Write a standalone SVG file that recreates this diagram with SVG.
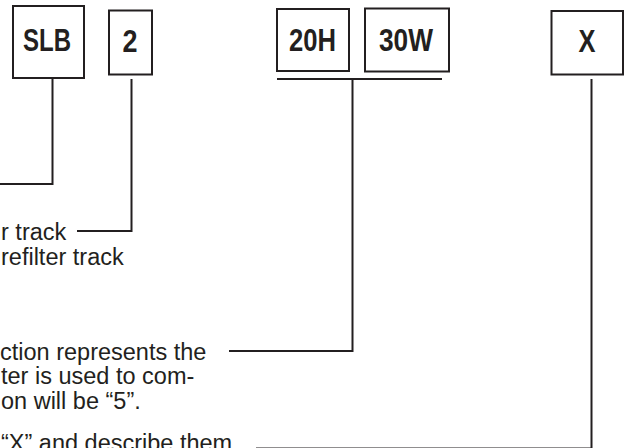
<svg xmlns="http://www.w3.org/2000/svg" width="625" height="448" viewBox="0 0 625 448">
<style>
.box{fill:#fff;stroke:#231f20;stroke-width:2}
.code{font-family:"Liberation Sans",Arial,sans-serif;font-weight:bold;font-size:31px;fill:#231f20;text-anchor:middle}
.desc{font-family:"Liberation Sans",Arial,sans-serif;font-size:23.5px;fill:#231f20}
.conn{fill:none;stroke:#231f20;stroke-width:2}
</style>
<rect width="625" height="448" fill="#fff"/>
<g id="node-slb"><rect class="box" x="13" y="6" width="71" height="72"/><text class="code" x="47" y="50.5" textLength="48" lengthAdjust="spacingAndGlyphs">SLB</text></g>
<g id="node-2"><rect class="box" x="109" y="10.5" width="43" height="64"/><text class="code" x="130" y="51.5" textLength="15" lengthAdjust="spacingAndGlyphs">2</text></g>
<g id="node-20h"><rect class="box" x="277" y="9" width="72" height="62"/><text class="code" x="312.5" y="50.5" textLength="47" lengthAdjust="spacingAndGlyphs">20H</text></g>
<g id="node-30w"><rect class="box" x="365" y="8.5" width="84" height="63"/><text class="code" x="406" y="50.5" textLength="54" lengthAdjust="spacingAndGlyphs">30W</text></g>
<g id="node-x"><rect class="box" x="551.5" y="11" width="71.5" height="63.5"/><text class="code" x="587" y="51.5" textLength="17" lengthAdjust="spacingAndGlyphs">X</text></g>
<g id="connectors">
<polyline class="conn" points="0,184 52.5,184 52.5,79"/>
<polyline class="conn" points="77,231 131.5,231 131.5,79"/>
<line class="conn" x1="277" y1="79" x2="442" y2="79"/>
<polyline class="conn" points="229,351 352.5,351 352.5,79"/>
<polyline class="conn" points="256,448.5 591.5,448.5 591.5,79"/>
</g>
<g id="labels">
<text class="desc" x="1" y="240">r track</text>
<text class="desc" x="1" y="264.5">refilter track</text>
<text class="desc" x="0" y="359.5">ction represents the</text>
<text class="desc" x="1" y="384">ter is used to com-</text>
<text class="desc" x="1" y="408.5">on will be “5”.</text>
<text class="desc" x="1" y="451">“X” and describe them</text>
</g>
</svg>
